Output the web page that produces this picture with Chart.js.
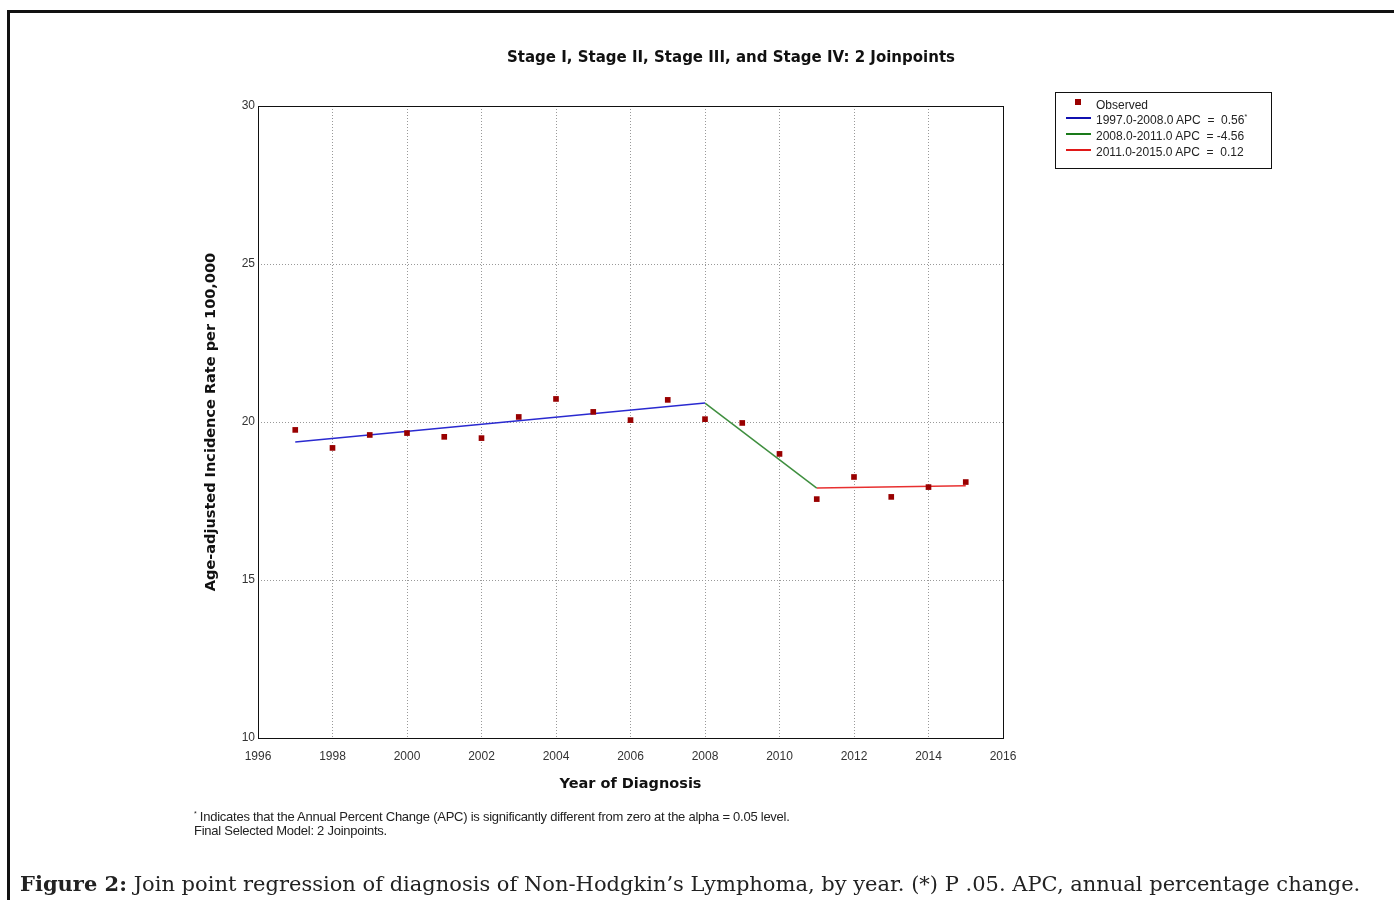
<!DOCTYPE html>
<html>
<head>
<meta charset="utf-8">
<script src="https://cdn.jsdelivr.net/npm/chart.js@4.4.0/dist/chart.umd.min.js"></script>
<style>
  html, body { margin: 0; padding: 0; width: 1394px; height: 900px; overflow: hidden; background: #fff; }
  #frame { position: absolute; left: 7px; top: 10px; width: 1500px; height: 1000px;
           border-top: 3px solid #111; border-left: 3px solid #111; }
  #chart { position: absolute; left: 0; top: 0; }
  .txt { position: absolute; white-space: nowrap; }
  #title { top: 48px; left: 731px; transform: translateX(-50%); font: bold 15px "DejaVu Sans"; color: #111; }
  #legend { position: absolute; left: 1055px; top: 92px; width: 215px; height: 75px; border: 1px solid #111;
            font: 12px "Liberation Sans"; color: #222; }
  #legend .row { position: absolute; left: 40px; height: 16px; line-height: 16px; }
  #legend .row sup { font-size: 7px; line-height: 0; vertical-align: 5px; }
  #legend .ln { position: absolute; left: 10px; width: 25px; height: 2px; }
  #legend .mk { position: absolute; left: 19px; width: 6px; height: 6px; background: #990000; }
  #note { left: 194px; top: 810px; font: 13px "Liberation Sans"; color: #222; line-height: 14px; letter-spacing: -0.25px; }
  #note sup { font-size: 7px; line-height: 0; vertical-align: 5px; }
  #caption { left: 20px; top: 871px; font: 21px "DejaVu Serif"; color: #222; letter-spacing: 0; }
</style>
</head>
<body>
<div id="frame"></div>
<canvas id="chart" width="1394" height="900"></canvas>
<div class="txt" id="title">Stage I, Stage II, Stage III, and Stage IV: 2 Joinpoints</div>
<div id="legend">
  <div class="mk" style="top:6px"></div><div class="row" style="top:4px">Observed</div>
  <div class="ln" style="top:24px;background:#1010b0"></div><div class="row" style="top:19px">1997.0-2008.0 APC &nbsp;= &nbsp;0.56<sup>*</sup></div>
  <div class="ln" style="top:40px;background:#1a7a1a"></div><div class="row" style="top:35px">2008.0-2011.0 APC &nbsp;= -4.56</div>
  <div class="ln" style="top:56px;background:#e01818"></div><div class="row" style="top:51px">2011.0-2015.0 APC &nbsp;= &nbsp;0.12</div>
</div>
<div class="txt" id="note"><sup>*</sup> Indicates that the Annual Percent Change (APC) is significantly different from zero at the alpha = 0.05 level.<br>Final Selected Model: 2 Joinpoints.</div>
<div class="txt" id="caption"><b>Figure 2:</b> Join point regression of diagnosis of Non-Hodgkin’s Lymphoma, by year. (*) P .05. APC, annual percentage change.</div>

<script>
// observed rates
const years = [1997, 1998, 1999, 2000, 2001, 2002, 2003, 2004, 2005, 2006, 2007, 2008, 2009, 2010, 2011, 2012, 2013, 2014, 2015];
const observed = [19.75, 19.18, 19.59, 19.65, 19.53, 19.49, 20.16, 20.73, 20.32, 20.06, 20.70, 20.09, 19.97, 18.99, 17.56, 18.26, 17.63, 17.94, 18.10];

// joinpoint segments (start/end year, start/end fitted value)
const seg1Years = [1997, 2008];
const seg1Fit = [19.37, 20.60];
const seg2Years = [2008, 2011];
const seg2Fit = [20.60, 17.91];
const seg3Years = [2011, 2015];
const seg3Fit = [17.91, 17.98];

function toPoints(xs, ys) {
    return xs.map((x, i) => ({ x: x, y: ys[i] }));
}

// box round the plot area
const plotBorder = {
    id: 'plotBorder',
    afterDraw(chart) {
        const a = chart.chartArea;
        const ctx = chart.ctx;
        ctx.save();
        ctx.strokeStyle = '#111';
        ctx.lineWidth = 1;
        ctx.strokeRect(a.left + 0.5, a.top + 0.5, a.right - a.left, a.bottom - a.top);
        ctx.restore();
    }
};

const lineDs = (label, xs, ys, color) => ({
    type: 'line',
    label: label,
    data: toPoints(xs, ys),
    borderColor: color,
    borderWidth: 1.5,
    pointRadius: 0,
    fill: false,
    order: 2
});

new Chart(document.getElementById('chart'), {
    type: 'scatter',
    data: {
        datasets: [
            {
                label: 'Observed',
                data: toPoints(years, observed),
                pointStyle: 'rect',
                pointRadius: 4,
                backgroundColor: '#990000',
                borderColor: '#990000',
                borderWidth: 0,
                order: 1
            },
            lineDs('1997.0-2008.0', seg1Years, seg1Fit, '#2a2ad0'),
            lineDs('2008.0-2011.0', seg2Years, seg2Fit, '#3f8f3f'),
            lineDs('2011.0-2015.0', seg3Years, seg3Fit, '#e83030')
        ]
    },
    options: {
        responsive: false,
        animation: false,
        layout: { padding: { left: 199, top: 106, right: 391, bottom: 102 } },
        plugins: { legend: { display: false }, title: { display: false }, tooltip: { enabled: false } },
        scales: {
            x: {
                type: 'linear',
                min: 1996,
                max: 2016,
                ticks: { stepSize: 2, padding: 11, color: '#333', font: { family: 'Liberation Sans', size: 12 },
                         callback: v => String(v) },
                grid: { color: '#999', drawTicks: false, lineWidth: 1 },
                border: { display: false, dash: [1, 2] },
                title: { display: true, text: 'Year of Diagnosis', color: '#111',
                         font: { family: 'DejaVu Sans', size: 14.5, weight: 'bold' }, padding: { top: 4, bottom: 5 } },
                afterFit: s => { s.height = 60; }
            },
            y: {
                min: 10,
                max: 30,
                ticks: { stepSize: 5, padding: 3, color: '#333', font: { family: 'Liberation Sans', size: 12 } },
                grid: { color: '#999', drawTicks: false, lineWidth: 1 },
                border: { display: false, dash: [1, 2] },
                title: { display: true, text: 'Age-adjusted Incidence Rate per 100,000', color: '#111',
                         font: { family: 'DejaVu Sans', size: 14.5, weight: 'bold' }, padding: { top: 4, bottom: 4 } },
                afterFit: s => { s.width = 59; }
            }
        }
    },
    plugins: [plotBorder]
});
</script>
</body>
</html>
